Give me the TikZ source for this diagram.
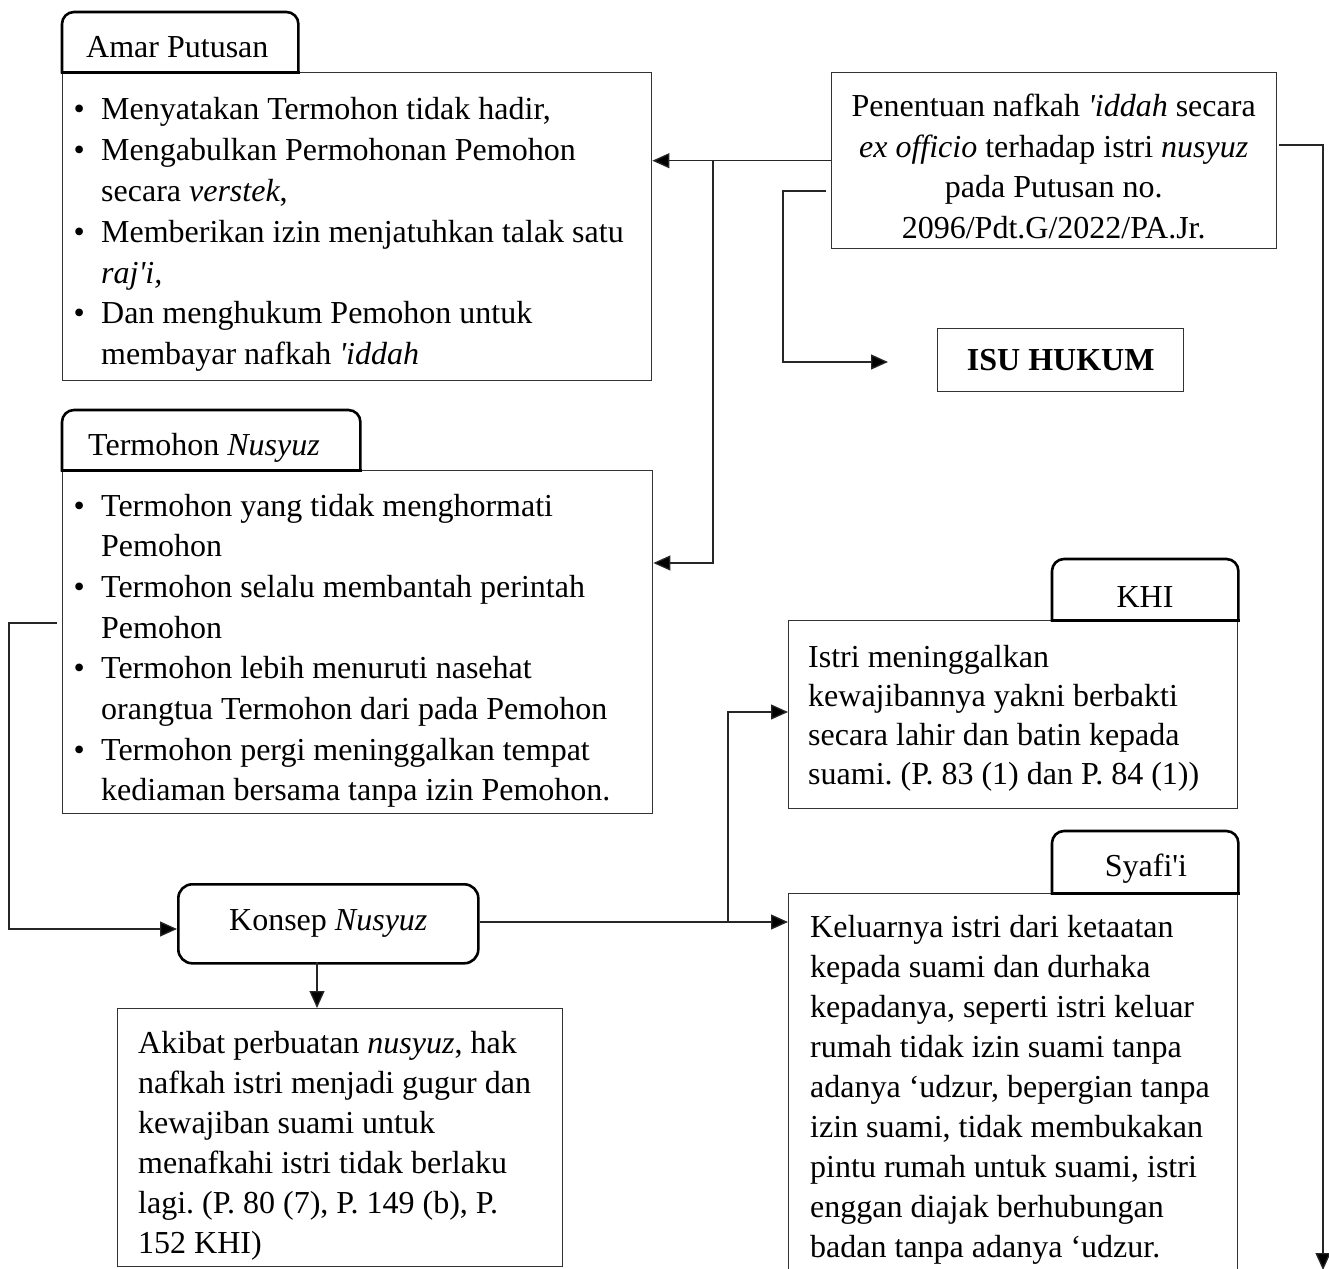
\documentclass[tikz,border=0pt]{standalone}
\usepackage{fontspec}
\setmainfont{Liberation Serif}[Ligatures=TeXOff]
\usetikzlibrary{arrows.meta}
\newcommand{\bodyfont}{\fontsize{32pt}{40pt}\selectfont\frenchspacing}
\newcommand{\vlines}[2]{\vtop{\baselineskip=#1pt\lineskiplimit=-100pt\lineskip=0pt #2}}
\newcommand{\bitem}[1]{\hbox{\hbox to 22pt{\hss\textbullet\hss}\hskip 11pt #1}}
\newcommand{\bcont}[1]{\hbox{\hskip 33pt #1}}
\newcommand{\crow}[1]{\hbox to 445pt{\hfil #1\hfil}}
\newcommand{\lrow}[1]{\hbox{#1}}
\tikzset{
  every node/.style={font=\bodyfont, inner sep=0pt},
  box/.style={draw=black!80, line width=1.4pt, anchor=north west, inner sep=0pt},
  tabbox/.style={anchor=north west, inner sep=0pt},
  tabline/.style={line width=2.6pt, line cap=rect, black},
  conn/.style={line width=1.3pt, black!85},
  arr/.style={conn, -{Triangle[length=17pt,width=15pt,fill=black]}},
  lbl/.style={anchor=base west, inner sep=0pt},
}
\begin{document}
\begin{tikzpicture}[x=1pt,y=-1pt]
\path[fill=white, use as bounding box] (0,0) rectangle (1329,1268);

% ---------- boxes ----------
\node[box, minimum width=589pt, minimum height=308pt] (amar) at (62,72) {};
\node[box, minimum width=445pt, minimum height=176pt] (pen) at (831,72) {};
\node[box, minimum width=246pt, minimum height=63pt] (isu) at (937,328) {};
\node[font=\bodyfont\bfseries] (isutxt) at (isu.center) {ISU HUKUM};
\node[box, minimum width=590pt, minimum height=343pt] (term) at (62,470) {};
\node[box, draw=black, line width=2.6pt, rounded corners=14pt, minimum width=300pt, minimum height=79pt] (konsep) at (177,883) {Konsep \textit{Nusyuz}};
\node[box, minimum width=445pt, minimum height=258pt] (akibat) at (117,1008) {};
\node[box, minimum width=449pt, minimum height=188pt] (khi) at (788,620) {};
\node[box, minimum width=449pt, minimum height=400pt] (syafi) at (788,893) {};

% ---------- tabs ----------
\node[tabbox, minimum width=236pt, minimum height=60pt] (tabA) at (62,12) {};
\node[tabbox, minimum width=298pt, minimum height=60pt] (tabT) at (62,410) {};
\node[tabbox, minimum width=186pt, minimum height=61pt] (tabK) at (1052,559) {};
\node[tabbox, minimum width=186pt, minimum height=62pt] (tabS) at (1052,831) {};
\foreach \t in {tabA,tabT,tabK,tabS}{
  \draw[tabline, rounded corners=12pt] (\t.south west) -- (\t.north west) -- (\t.north east) -- (\t.south east);
  \draw[tabline] (\t.south west) -- (\t.south east);
}
\node[lbl] (tabAtxt) at (86,58) {Amar Putusan};
\node[lbl] (tabTtxt) at (88,455) {Termohon \textit{Nusyuz}};
\node[anchor=base] (tabKtxt) at (1145,607) {KHI};
\node[anchor=base] (tabStxt) at (1146,876) {Syafi'i};

% ---------- texts ----------
\node[lbl] (amartxt) at (68,120) {\vlines{40.8}{%
\bitem{Menyatakan Termohon tidak hadir,}
\bitem{Mengabulkan Permohonan Pemohon}
\bcont{secara \textit{verstek},}
\bitem{Memberikan izin menjatuhkan talak satu}
\bcont{\textit{raj'i,}}
\bitem{Dan menghukum Pemohon untuk}
\bcont{membayar nafkah \textit{'iddah}}}};

\node[lbl] (pentxt) at (831,117) {\vlines{40.5}{%
\crow{Penentuan nafkah \textit{'iddah} secara}
\crow{\textit{ex officio} terhadap istri \textit{nusyuz}}
\crow{pada Putusan no.}
\crow{2096/Pdt.G/2022/PA.Jr.}}};

\node[lbl] (termtxt) at (68,516) {\vlines{40.7}{%
\bitem{Termohon yang tidak menghormati}
\bcont{Pemohon}
\bitem{Termohon selalu membantah perintah}
\bcont{Pemohon}
\bitem{Termohon lebih menuruti nasehat}
\bcont{orangtua Termohon dari pada Pemohon}
\bitem{Termohon pergi meninggalkan tempat}
\bcont{kediaman bersama tanpa izin Pemohon.}}};

\node[lbl] (khitxt) at (808,667) {\vlines{39}{%
\lrow{Istri meninggalkan}
\lrow{kewajibannya yakni berbakti}
\lrow{secara lahir dan batin kepada}
\lrow{suami. (P. 83 (1) dan P. 84 (1))}}};

\node[lbl] (syafitxt) at (810,937) {\vlines{40}{%
\lrow{Keluarnya istri dari ketaatan}
\lrow{kepada suami dan durhaka}
\lrow{kepadanya, seperti istri keluar}
\lrow{rumah tidak izin suami tanpa}
\lrow{adanya ‘udzur, bepergian tanpa}
\lrow{izin suami, tidak membukakan}
\lrow{pintu rumah untuk suami, istri}
\lrow{enggan diajak berhubungan}
\lrow{badan tanpa adanya ‘udzur.}}};

\node[lbl] (akibattxt) at (138,1053) {\vlines{40}{%
\lrow{Akibat perbuatan \textit{nusyuz}, hak}
\lrow{nafkah istri menjadi gugur dan}
\lrow{kewajiban suami untuk}
\lrow{menafkahi istri tidak berlaku}
\lrow{lagi. (P. 80 (7), P. 149 (b), P.}
\lrow{152 KHI)}}};

% ---------- connector points ----------
\coordinate (j1) at (713,160);
\coordinate (j2) at (713,563);
\coordinate (i0) at (826,191);
\coordinate (i1) at (783,191);
\coordinate (i2) at (888,362);
\coordinate (r0) at (1279,145);
\coordinate (r1) at (1323,145);
\coordinate (r2) at (1323,1270);
\coordinate (l0) at (57,623);
\coordinate (l1) at (9,623);
\coordinate (l2) at (9,929);
\coordinate (d0) at (317,962);
\coordinate (m0) at (668,922);
\coordinate (m1) at (728,922);
\coordinate (m2) at (728,712);

% ---------- connectors ----------
\draw[arr] (pen.west) -- (amar.east |- pen.west);
\draw[arr] (j1) -- (j2) -- (term.east |- j2);
\draw[arr] (i0) -- (i1) |- (i2);
\draw[arr] (r0) -- (r1) -- (r2);
\draw[arr] (l0) -- (l1) -- (l2) -- (konsep.west |- l2);
\draw[arr] (d0) -- (akibat.north -| d0);
\draw[arr] (konsep.east |- m1) -- (m1) -- (m2) -- (khi.west |- m2);
\draw[arr] (m0) -- (syafi.west |- m0);
\end{tikzpicture}
\end{document}
